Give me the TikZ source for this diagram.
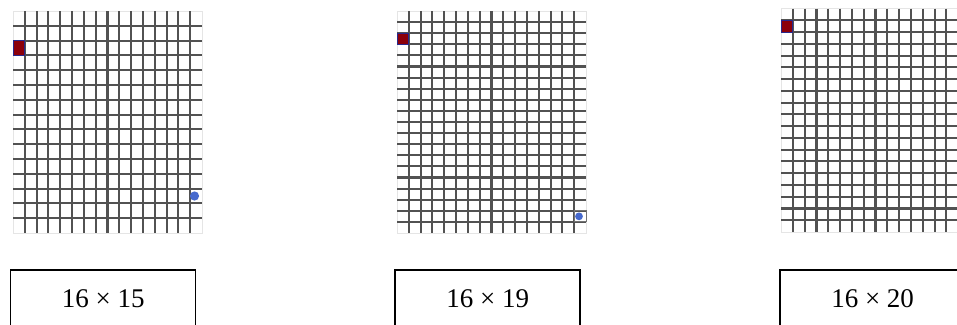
\documentclass[tikz,border=0pt]{standalone}
\usepackage{fontspec}
\setmainfont{Liberation Serif}
\definecolor{cellred}{RGB}{140,0,10}
\definecolor{cellblue}{RGB}{40,40,140}
\definecolor{dotblue}{RGB}{70,105,205}
\newcommand\mygrid[6]{%
  \pgfmathtruncatemacro\myncols{#5-1}%
  \pgfmathtruncatemacro\mynrows{#6-1}%
  \draw[gridframe] (#1,#2) rectangle (#3,#4);
  \foreach \i in {1,...,\myncols}{\draw[gridline] ({#1+\i*(#3-#1)/#5},#2) -- ({#1+\i*(#3-#1)/#5},#4);}
  \foreach \j in {1,...,\mynrows}{\draw[gridline] (#1,{#2+\j*(#4-#2)/#6}) -- (#3,{#2+\j*(#4-#2)/#6});}
}
\tikzset{
  gridline/.style={draw=black!68, line width=2.1pt},
  gridframe/.style={draw=black!10, line width=0.6pt, fill=white},
  redcell/.style={fill=cellred, draw=cellblue, line width=0.9pt},
  bluedot/.style={fill=dotblue, draw=none},
  labelbox/.style={draw=black, line width=1.5pt, minimum width=185pt, minimum height=58pt,
    anchor=north, inner sep=0pt, font=\fontsize{27}{30}\selectfont},
}
\begin{document}
\begin{tikzpicture}[x=1pt,y=-1pt]
\useasboundingbox (0,0) rectangle (957,324);
\clip (0,0) rectangle (957,324);
% grid 1: 16 x 15
\mygrid{13}{11}{202}{233}{16}{15}
\draw[redcell] (13,{11+2*222/15}) rectangle ({13+189/16},{11+3*222/15});
\fill[bluedot] (194.5,{11+12.5*222/15}) circle (4.6);
% grid 2: 16 x 20 cells
\mygrid{397}{11}{586}{233}{16}{20}
\draw[redcell] (397,{11+2*222/20}) rectangle ({397+189/16},{11+3*222/20});
\draw[draw=black!55, line width=1pt] ({397+15*189/16},{11+18*222/20}) rectangle (586,{11+19*222/20});
\fill[bluedot] (579,{11+18.5*222/20}) circle (3.9);
% grid 3: 16 x 19 cells (cut at right edge)
\mygrid{781}{8.5}{970}{232}{16}{19}
\draw[redcell] (781,{8.5+1*223.5/19}) rectangle ({781+189/16},{8.5+2*223.5/19});
% label boxes
\node[labelbox] (b1) at (103.2,269) {16 × 15};
\node[labelbox] (b2) at (487.7,269) {16 × 19};
\node[labelbox] (b3) at (872.6,269) {16 × 20};
\end{tikzpicture}
\end{document}
